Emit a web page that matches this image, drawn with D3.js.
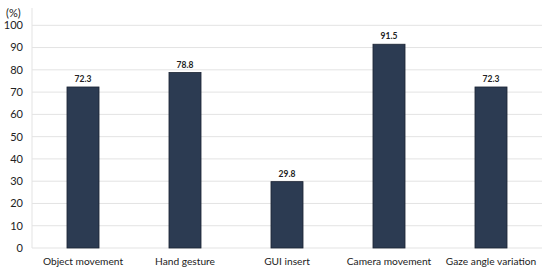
<!DOCTYPE html>
<html lang="en">
<head>
<meta charset="UTF-8">
<script src="https://d3js.org/d3.v7.min.js"></script>
<style>
  body { margin: 0; background: #fff; }
  text { font-family: Lato, "Open Sans", sans-serif; fill: #222; }
  .tick-label { font-size: 11px; }
  .cat-label { font-size: 10.2px; }
  .val-label { font-size: 8.5px; font-weight: bold; }
</style>
</head>
<body>
<svg width="550" height="273"></svg>
<script>
  const categories = ["Object movement", "Hand gesture", "GUI insert", "Camera movement", "Gaze angle variation"];
  const values = [72.3, 78.8, 29.8, 91.5, 72.3];
  const yTicks = [0, 10, 20, 30, 40, 50, 60, 70, 80, 90, 100];

  const svg = d3.select("svg");
  const plotLeft = 32, plotRight = 542, plotTop = 25.3, plotBottom = 248;

  const x = d3.scaleBand().domain(categories).range([plotLeft, plotRight]).paddingInner(0.686).paddingOuter(0.343);
  const y = d3.scaleLinear().domain([0, 100]).range([plotBottom, plotTop]);

  // gridlines
  svg.append("g").selectAll("line")
    .data(yTicks)
    .join("line")
    .attr("x1", plotLeft).attr("x2", plotRight)
    .attr("y1", d => y(d)).attr("y2", d => y(d))
    .attr("stroke", "#e3e3e3").attr("stroke-width", 1);

  // left axis line
  svg.append("line")
    .attr("x1", plotLeft).attr("x2", plotLeft)
    .attr("y1", 8).attr("y2", plotBottom)
    .attr("stroke", "#e3e3e3");

  // tick labels
  svg.append("g").selectAll("text")
    .data(yTicks)
    .join("text")
    .attr("class", "tick-label")
    .attr("x", 23)
    .attr("y", d => y(d))
    .attr("dy", "0.35em")
    .attr("text-anchor", "end")
    .text(d => d);

  svg.append("text")
    .attr("class", "tick-label")
    .attr("x", 6).attr("y", 17)
    .text("(%)");

  // bars
  svg.append("g").selectAll("rect")
    .data(values)
    .join("rect")
    .attr("x", (d, i) => x(categories[i]))
    .attr("width", x.bandwidth())
    .attr("y", d => y(d))
    .attr("height", d => y(0) - y(d))
    .attr("fill", "#2c3b52")
    .attr("stroke", "#1a2333")
    .attr("stroke-width", 0.8);

  // value labels
  svg.append("g").selectAll("text")
    .data(values)
    .join("text")
    .attr("class", "val-label")
    .attr("x", (d, i) => x(categories[i]) + x.bandwidth() / 2)
    .attr("y", d => y(d) - 5)
    .attr("text-anchor", "middle")
    .text(d => d.toFixed(1));

  // category labels
  svg.append("g").selectAll("text")
    .data(categories)
    .join("text")
    .attr("class", "cat-label")
    .attr("x", d => x(d) + x.bandwidth() / 2)
    .attr("y", 265)
    .attr("text-anchor", "middle")
    .text(d => d);
</script>
</body>
</html>
